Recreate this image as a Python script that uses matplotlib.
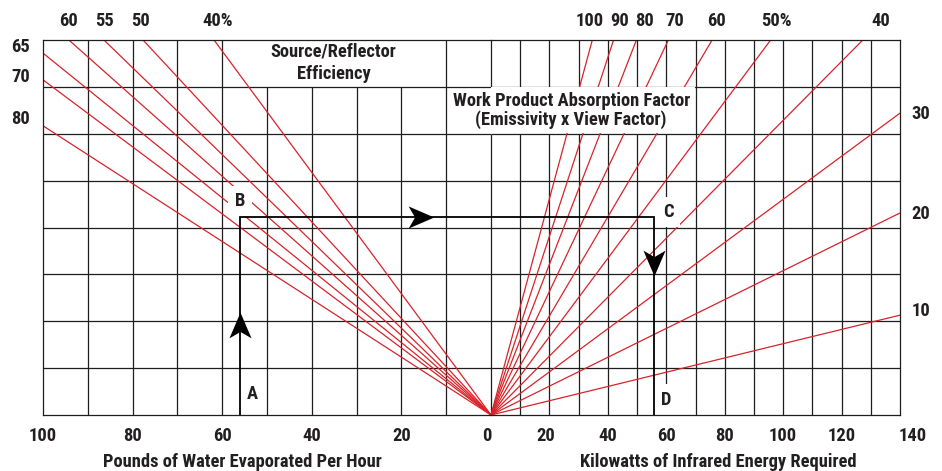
import numpy as np
import matplotlib
matplotlib.use('Agg')
import matplotlib.pyplot as plt
from matplotlib.path import Path
from matplotlib.markers import MarkerStyle
from matplotlib.transforms import Affine2D, ScaledTranslation
from matplotlib.patches import Rectangle

# ---------------- data ----------------
efficiency_labels = ['40%', '50', '55', '60', '65', '70', '80']
efficiency_level_at_100lb = [12.94, 10.30, 9.26, 8.49, 7.72, 7.15, 6.17]

absorption_labels = ['100', '90', '80', '70', '60', '50%', '40', '30', '20', '10']
absorption_level_at_140kw = [32.3, 26.7, 22.5, 18.45, 14.8, 11.7, 8.80, 6.44, 4.31, 2.13]

pounds_ticks = [100, 80, 60, 40, 20, 0]
kw_ticks = [20, 40, 60, 80, 100, 120, 140]

example_pounds = 56.0
example_level = 4.22
example_kw = 55.9
arrow_up_level = 1.91
arrow_right_pounds = 15.7
arrow_down_level = 3.25

# ---------------- style ----------------
FONT = ['Roboto Condensed', 'Fira Sans Condensed', 'Liberation Sans', 'DejaVu Sans']
plt.rcParams['font.family'] = FONT
plt.rcParams['font.weight'] = 'bold'
TXT = '#231f20'
GRID = '#1e1e1e'
RED = '#d8232a'
FS = 13.3
W, H = 942, 471

fig = plt.figure(figsize=(W / 100, H / 100), dpi=100)
ax_l = fig.add_axes([43 / W, 56 / H, 448 / W, 375 / H])
ax_r = fig.add_axes([491 / W, 56 / H, 409 / W, 375 / H])

ax_l.set_xlim(100, 0)
ax_r.set_xlim(0, 140)
for ax in (ax_l, ax_r):
    ax.set_ylim(0, 8)
    ax.set_yticks([])
    ax.tick_params(axis='x', length=0, pad=8.5, labelsize=FS, labelcolor=TXT)
    for s in ax.spines.values():
        s.set_color(GRID)
        s.set_linewidth(0.9)
ax_l.spines['right'].set_visible(False)
ax_r.spines['left'].set_visible(False)

gl = dict(color=GRID, lw=0.9, zorder=1)
# vertical grid, left half (pounds)
for p in range(10, 100, 10):
    top = 7 if p in (20, 30, 40, 50) else 8
    ax_l.vlines(p, 0, top, **gl)
# centre line (0) with gap in the label row
ax_r.vlines(0, 0, 6, clip_on=False, **gl)
ax_r.vlines(0, 7, 8, clip_on=False, **gl)
# vertical grid, right half (kW)
for k in range(10, 140, 10):
    if k <= 60:
        ax_r.vlines(k, 0, 6, **gl)
        ax_r.vlines(k, 7, 8, **gl)
    else:
        ax_r.vlines(k, 0, 8, **gl)
# horizontal grid
for ax in (ax_l, ax_r):
    ax.hlines(np.arange(1, 8), *ax.get_xlim(), **gl)

# red efficiency lines
for lvl in efficiency_level_at_100lb:
    ax_l.plot([0, 100], [0, lvl], color=RED, lw=0.9, zorder=2, solid_capstyle='butt')
for lvl in absorption_level_at_140kw:
    ax_r.plot([0, 140], [0, lvl], color=RED, lw=0.9, zorder=2, solid_capstyle='butt')

# white label panel hiding lines in the absorption-factor title row
ax_r.add_patch(Rectangle((0, 6.012), 69.75, 0.976, fc='white', ec='none', zorder=2.5))

# example path A-B-C-D
pl = dict(color='black', lw=1.3, zorder=2.6, solid_capstyle='butt', solid_joinstyle='miter')
ax_l.plot([example_pounds, example_pounds, 0], [0, example_level, example_level], **pl)
ax_r.plot([0, example_kw, example_kw], [example_level, example_level, 0], **pl)

# stealth arrowheads
head = Path([(0, 1), (-0.86, -1), (0, -0.5), (0.86, -1), (0, 1)],
            [Path.MOVETO, Path.LINETO, Path.LINETO, Path.LINETO, Path.CLOSEPOLY])
def arrow(ax, x, y, rot):
    m = MarkerStyle(head, transform=Affine2D().rotate_deg(rot))
    ax.plot([x], [y], marker=m, ms=18.5, color='black', mec='none', zorder=4, clip_on=False)
arrow(ax_l, example_pounds, arrow_up_level, 0)
arrow(ax_l, arrow_right_pounds, example_level, -90)
arrow(ax_r, example_kw, arrow_down_level, 180)

# point labels
lab = dict(fontsize=FS, color=TXT, ha='center', va='center',
           bbox=dict(boxstyle='square,pad=0.35', fc='white', ec='none'), zorder=2.4)
ax_l.text(56.0, 4.565, 'B', **lab)
ax_l.text(53.3, 0.45, 'A', **lab)
ax_r.text(60.7, 4.33, 'C', **lab)
ax_r.text(60.1, 0.33, 'D', **lab)

# tick labels
ax_l.set_xticks(pounds_ticks)
ax_l.set_xticklabels([str(v) for v in pounds_ticks])
ax_r.set_xticks(kw_ticks)
ax_r.set_xticklabels([str(v) for v in kw_ticks])
for t in ax_l.get_xticklabels():
    if t.get_text() == '0':
        t.set_transform(t.get_transform() + ScaledTranslation(-4 / 100, 0, fig.dpi_scale_trans))
for t in ax_r.get_xticklabels():
    if t.get_text() == '140':
        t.set_transform(t.get_transform() + ScaledTranslation(13 / 100, 0, fig.dpi_scale_trans))
    elif t.get_text() == '20':
        t.set_transform(t.get_transform() + ScaledTranslation(-4 / 100, 0, fig.dpi_scale_trans))

def ftext(x, y, s, **kw):
    fig.text(x / W, 1 - y / H, s, fontsize=FS, color=TXT, ha='center', va='center', **kw)

# line labels (pixel positions of the original annotations)
eff_label_pos = {'60': (68, 21), '55': (104, 21), '50': (140, 21), '40%': (218, 21),
                 '65': (21, 47), '70': (21, 77), '80': (21, 119)}
abs_label_pos = {'100': (590, 21), '90': (620, 21), '80': (644, 21), '70': (675, 21),
                 '60': (716, 21), '50%': (776, 21), '40': (881, 21),
                 '30': (921, 114), '20': (921, 214), '10': (921, 311)}
for s in efficiency_labels:
    ftext(*eff_label_pos[s], s)
for s in absorption_labels:
    ftext(*abs_label_pos[s], s)

ftext(333, 52, 'Source/Reflector')
ftext(334, 74, 'Efficiency')
ftext(572, 101, 'Work Product Absorption Factor')
ftext(571, 120, '(Emissivity x View Factor)')
ftext(242, 462, 'Pounds of Water Evaporated Per Hour')
ftext(718, 462, 'Kilowatts of Infrared Energy Required')

fig.savefig('out.png', dpi=100)
